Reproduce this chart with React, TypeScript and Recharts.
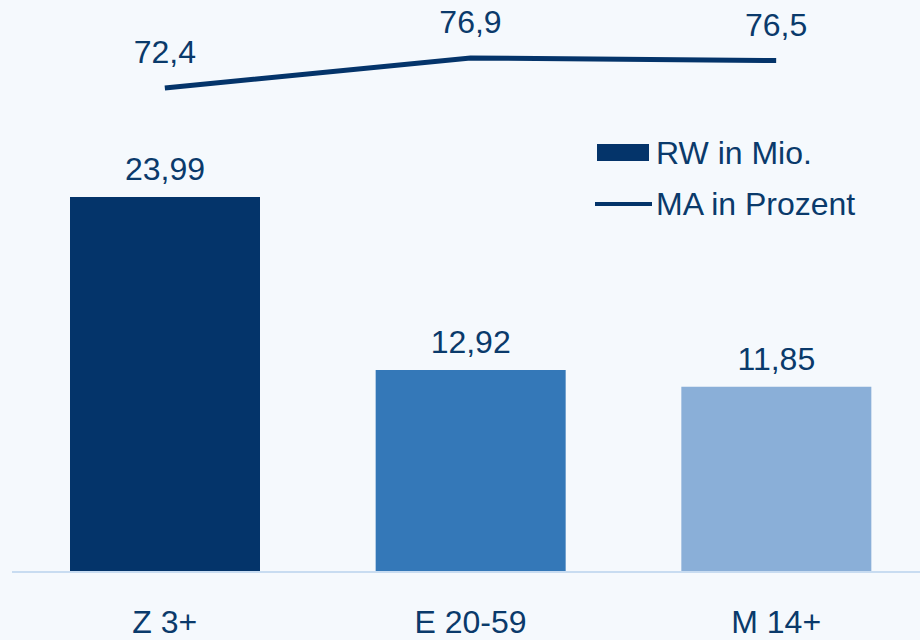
import React from "react";
import {
  ComposedChart, Bar, Line, XAxis, YAxis, Cell, LabelList, Legend
} from "recharts";

const categories = ["Z 3+", "E 20-59", "M 14+"];
const rwValues = [23.99, 12.92, 11.85];
const maValues = [72.4, 76.9, 76.5];
const barColors = ["#04346a", "#3478b8", "#8aafd8"];

const data = categories.map((name, i) => ({ name, rw: rwValues[i], ma: maValues[i] }));

const navy = "#0a3a6b";
const font = '"Liberation Sans", Arial, sans-serif';
const fs = 32;

const fmt = (v: any) => String(v).replace(".", ",");

function LegendBox() {
  return (
    <div style={{ fontFamily: font, fontSize: fs, color: navy, lineHeight: 1 }}>
      <div style={{ display: "flex", alignItems: "center", height: 51 }}>
        <span style={{ display: "inline-block", width: 52, height: 17, background: "#04346a", marginLeft: 2, marginRight: 7 }} />
        <span>RW in Mio.</span>
      </div>
      <div style={{ display: "flex", alignItems: "center", height: 51 }}>
        <span style={{ display: "inline-block", width: 57, height: 4, background: "#04346a", marginRight: 4 }} />
        <span>MA in Prozent</span>
      </div>
    </div>
  );
}

export default function App() {
  return (
    <div style={{ position: "fixed", left: 0, top: 0, width: 920, height: 640, overflow: "hidden", background: "#f5f9fd", fontFamily: font }}>
      <ComposedChart width={940} height={640} data={data} margin={{ top: 12, right: 11, bottom: 0, left: 12 }}>
        <XAxis
          dataKey="name"
          height={68}
          axisLine={{ stroke: "#c8dcf1", strokeWidth: 2 }}
          tickLine={false}
          tickSize={0}
          tickMargin={38}
          tick={{ fill: navy, fontSize: fs, fontFamily: font }}
        />
        <YAxis yAxisId="bar" hide domain={[0, 35.83]} />
        <YAxis yAxisId="line" hide orientation="right" domain={[0, 83.77]} />
        <Legend
          layout="horizontal"
          verticalAlign="middle"
          align="center"
          content={() => <LegendBox />}
          wrapperStyle={{ position: "absolute", left: 595, top: 127, width: 320 }}
        />
        <Bar yAxisId="bar" dataKey="rw" name="RW in Mio." barSize={190} isAnimationActive={false}>
          {data.map((d, i) => (
            <Cell key={d.name} fill={barColors[i]} />
          ))}
          <LabelList dataKey="rw" position="top" offset={17} formatter={fmt} fill={navy} fontSize={fs} fontFamily={font} />
        </Bar>
        <Line
          yAxisId="line"
          dataKey="ma"
          name="MA in Prozent"
          stroke="#04346a"
          strokeWidth={5}
          dot={false}
          activeDot={false}
          isAnimationActive={false}
        >
          <LabelList dataKey="ma" position="top" offset={25} formatter={fmt} fill={navy} fontSize={fs} fontFamily={font} />
        </Line>
      </ComposedChart>
    </div>
  );
}
